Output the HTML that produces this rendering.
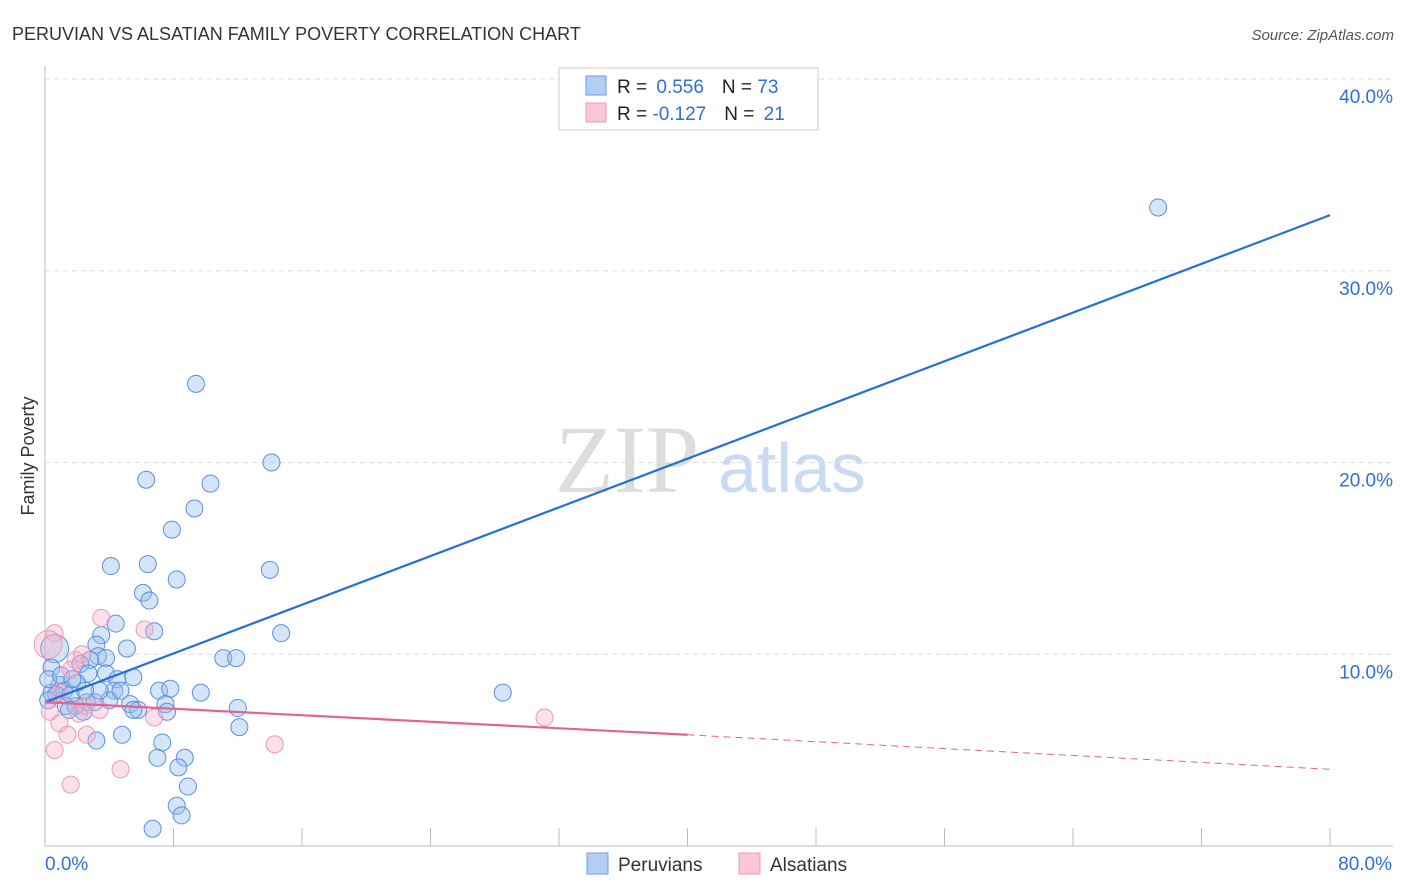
<!DOCTYPE html>
<html><head><meta charset="utf-8">
<style>
body{margin:0;background:#fff;font-family:"Liberation Sans",sans-serif;}
#wrap{position:relative;width:1406px;height:892px;overflow:hidden;}
</style></head>
<body>
<div id="wrap">
<svg id="svg" width="1406" height="892" xmlns="http://www.w3.org/2000/svg">
<text x="12" y="40" font-size="18" fill="#333">PERUVIAN VS ALSATIAN FAMILY POVERTY CORRELATION CHART</text>
<text x="1394" y="40" font-size="15" fill="#555" font-style="italic" text-anchor="end">Source: ZipAtlas.com</text>
<text x="34" y="456" font-size="18" fill="#333" transform="rotate(-90 34 456)" text-anchor="middle">Family Poverty</text>
<text x="555" y="492" font-size="96" fill="#ddd" font-family="Liberation Serif,serif">ZIP</text>
<text x="718" y="492" font-size="70" fill="#c9daf3">atlas</text>
<g id="grid"></g>
<g id="pts"></g>
<g id="lines"></g>
<g>
<rect x="559" y="68" width="259" height="62" fill="#fff" stroke="#ccc"/>
<rect x="586" y="76" width="20" height="19" fill="#b3cdf3" stroke="#6d9ce3"/>
<rect x="586" y="103" width="20" height="19" fill="#f9c7d6" stroke="#ec9ab6"/>
<text x="617" y="93" font-size="19" fill="#222">R = <tspan fill="#2f6fd6" dx="4">0.556</tspan><tspan dx="18" fill="#222">N = </tspan><tspan fill="#2f6fd6">73</tspan></text>
<text x="617" y="120" font-size="19" fill="#222">R = <tspan fill="#2f6fd6" dx="0">-0.127</tspan><tspan dx="18" fill="#222">N = </tspan><tspan fill="#2f6fd6" dx="4">21</tspan></text>
</g>
<g>
<rect x="587" y="853" width="21" height="21" fill="#b3cdf3" stroke="#6d9ce3"/>
<text x="618" y="871" font-size="19" fill="#333">Peruvians</text>
<rect x="739" y="853" width="21" height="21" fill="#f9c7d6" stroke="#ec9ab6"/>
<text x="770" y="871" font-size="19" fill="#333">Alsatians</text>
</g>
</svg>
</div>
<script>
const yTicks=[10,20,30,40];
const xTickLabels=["0.0%","80.0%"];
const blueX=[69.3,9.4,14.1,6.3,10.3,9.3,7.9,4.1,6.4,14.0,8.2,6.1,6.5,6.8,14.7,4.4,3.5,3.2,5.1,0.6,3.3,3.8,2.8,11.1,11.9,2.2,0.4,2.7,3.8,5.5,4.5,0.9,2.0,7.1,7.8,9.7,4.3,0.4,1.2,28.5,4.0,2.6,3.1,5.3,1.3,1.9,5.8,7.5,7.6,12.0,2.4,12.1,4.8,3.2,7.3,8.7,7.0,8.3,8.9,8.2,8.5,6.7,0.2,0.7,1.6,0.2,4.7,3.4,5.5,1.5,1.0,1.7,2.5];
const blueY=[33.3,24.1,20.0,19.1,18.9,17.6,16.5,14.6,14.7,14.4,13.9,13.2,12.8,11.2,11.1,11.6,11.0,10.5,10.3,10.3,9.9,9.8,9.7,9.8,9.8,9.5,9.3,9.0,9.0,8.8,8.7,8.4,8.5,8.1,8.2,8.0,8.1,8.0,8.1,8.0,7.6,7.5,7.5,7.4,7.3,7.3,7.1,7.4,7.0,7.2,7.0,6.2,5.8,5.5,5.4,4.6,4.6,4.1,3.1,2.1,1.6,0.9,8.7,7.9,7.9,7.6,8.1,8.1,7.1,7.1,8.9,8.7,8.1];
const pinkX=[0.6,3.5,6.2,0.2,1.9,2.3,1.6,0.9,2.5,0.3,2.1,3.4,0.9,1.4,2.6,0.6,4.7,1.6,14.3,31.1,6.8];
const pinkY=[11.1,11.9,11.3,10.5,9.7,10.0,9.2,8.0,7.3,7.0,6.9,7.1,6.4,5.8,5.8,5.0,4.0,3.2,5.3,6.7,6.7];
const blueTrend=[7.5,32.9];
const pinkTrend=[7.5,5.8,4.0];
const X=v=>45+v*1285/80, Y=v=>846-v*19.175;
const NS="http://www.w3.org/2000/svg";
function mk(t,a,p){const e=document.createElementNS(NS,t);for(const k in a)e.setAttribute(k,a[k]);p.appendChild(e);return e;}
const g=document.getElementById('grid');
yTicks.forEach(t=>{
 const l=mk('line',{x1:45,x2:1393,y1:Y(t),y2:Y(t),stroke:'#ddd','stroke-dasharray':'5,4'},g);
 
 
 const tx=mk('text',{x:1393,y:Y(t)+24,'font-size':19,fill:'#2f6fd6','text-anchor':'end'},g);
 tx.textContent=t.toFixed(1)+'%';
 
 
});
const ax=mk('line',{x1:45,x2:45,y1:66,y2:846,stroke:'#bbb'},g);


const bx=mk('line',{x1:45,x2:1393,y1:846,y2:846,stroke:'#bbb'},g);


for(let i=0;i<=10;i++){
 const tk=mk('line',{x1:X(i*8),x2:X(i*8),y1:828,y2:846,stroke:'#bbb'},g);
 
 
}
[[0,'start'],[80,'end']].forEach((p,i)=>{
 const tx=mk('text',{x:X(p[0])+(i?62:0),y:870,'font-size':19,fill:'#2f6fd6','text-anchor':p[1]},g);
 tx.textContent=xTickLabels[i];
 
 
});
const pg=document.getElementById('pts');
blueX.forEach((x,i)=>{
 const big=(i==19);
 const c=mk('circle',{cx:X(x),cy:Y(blueY[i]),r:big?14:8.5,fill:'rgba(150,190,240,0.4)',stroke:'#5b8fe0','stroke-width':1},pg);
 
 
});
pinkX.forEach((x,i)=>{
 const big=(i==3);
 const c=mk('circle',{cx:X(x),cy:Y(pinkY[i]),r:big?14:8.5,fill:'rgba(245,170,195,0.35)',stroke:'#eb9ab5','stroke-width':1},pg);
 
 
});
const lg=document.getElementById('lines');
const bl=mk('line',{x1:X(0),y1:Y(blueTrend[0]),x2:X(80),y2:Y(blueTrend[1]),stroke:'#2470d8','stroke-width':2.2},lg);


const pl=mk('line',{x1:X(0),y1:Y(pinkTrend[0]),x2:X(40),y2:Y(pinkTrend[1]),stroke:'#e5648e','stroke-width':2.2},lg);


const pd=mk('line',{x1:X(40),y1:Y(pinkTrend[1]),x2:X(80),y2:Y(pinkTrend[2]),stroke:'#e5648e','stroke-width':1,'stroke-dasharray':'7,5'},lg);


</script>
</body></html>
